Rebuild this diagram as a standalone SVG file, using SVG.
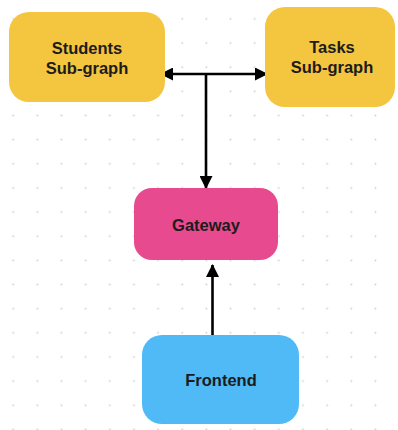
<svg xmlns="http://www.w3.org/2000/svg" width="398" height="430" viewBox="0 0 398 430">
  <defs>
    <pattern id="dots" x="1.2" y="6.8" width="24.15" height="24.15" patternUnits="userSpaceOnUse">
      <circle cx="12" cy="12" r="1" fill="#d2d2d2"/>
    </pattern>
    <marker id="arrow" viewBox="0 0 13 13" refX="12" refY="6.5" markerWidth="13" markerHeight="13" markerUnits="userSpaceOnUse" orient="auto-start-reverse">
      <path d="M0,0 L13,6.5 L0,13 Z" fill="#000"/>
    </marker>
    <style>
      .label { font-family: "Liberation Sans", Arial, sans-serif; font-weight: bold; font-size: 16.5px; fill: #1c1c1c; text-anchor: middle; }
      .edge { stroke: #000; stroke-width: 2.6; fill: none; }
    </style>
  </defs>

  <rect width="398" height="430" fill="#fff"/>
  <rect width="398" height="430" fill="url(#dots)"/>

  <g id="connectors">
    <path class="edge" d="M206,74 H161" marker-end="url(#arrow)"/>
    <path class="edge" d="M206,74 H267" marker-end="url(#arrow)"/>
    <path class="edge" d="M206,74 V188" marker-end="url(#arrow)"/>
    <path class="edge" d="M212.5,335 V265" marker-end="url(#arrow)"/>
  </g>

  <g id="students">
    <rect x="9" y="12" width="156" height="90" rx="20" fill="#F4C53E"/>
    <text class="label" x="87" y="54">Students</text>
    <text class="label" x="87" y="74">Sub-graph</text>
  </g>

  <g id="tasks">
    <rect x="265" y="7" width="130" height="100" rx="20" fill="#F4C53E"/>
    <text class="label" x="332" y="53">Tasks</text>
    <text class="label" x="332" y="73">Sub-graph</text>
  </g>

  <g id="gateway">
    <rect x="134" y="188" width="144" height="72" rx="18" fill="#E84A8F"/>
    <text class="label" x="206" y="231">Gateway</text>
  </g>

  <g id="frontend">
    <rect x="142" y="335" width="157" height="89" rx="20" fill="#4FBAF5"/>
    <text class="label" x="221" y="386">Frontend</text>
  </g>
</svg>
